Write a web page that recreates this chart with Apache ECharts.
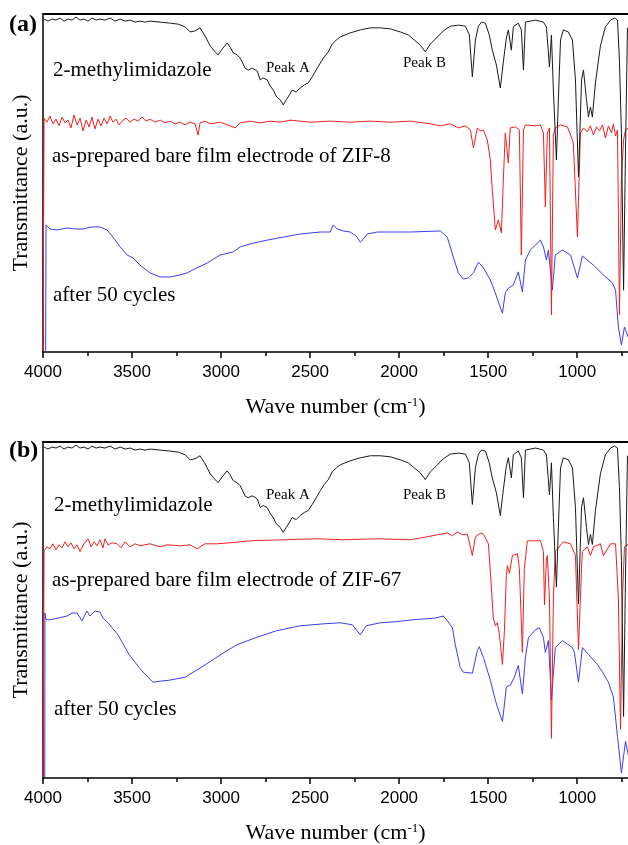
<!DOCTYPE html>
<html>
<head>
<meta charset="utf-8">
<script src="https://cdn.jsdelivr.net/npm/echarts@6/dist/echarts.min.js"></script>
<style>
html, body { margin: 0; padding: 0; background: #fff; }
#chart { width: 628px; height: 845px; }
</style>
</head>
<body>
<div id="chart"></div>
<script>
// wave number ticks (cm-1)
const wnTicks = [4000, 3500, 3000, 2500, 2000, 1500, 1000];
const wnMinor = [3750, 3250, 2750, 2250, 1750, 1250, 750];

// 2-methylimidazole, same spectrum in both panels  [wave number, transmittance a.u.]
const mim = [[3994,98.5],[3972,97.9],[3949,98.5],[3927,98.2],[3904,98.8],[3882,97.9],[3860,98.5],[3837,98.2],[3815,99.1],[3792,98.2],[3770,98.5],[3747,97.9],[3725,98.8],[3702,98.2],[3680,98.5],[3652,98.2],[3623,98.8],[3595,97.9],[3567,98.5],[3539,97.9],[3511,98.2],[3483,97.6],[3455,97.9],[3427,97.6],[3399,97.9],[3342,97.6],[3286,97.3],[3241,97.0],[3202,96.2],[3174,94.7],[3146,95.0],[3118,95.9],[3090,93.5],[3061,90.5],[3033,88.8],[3017,87.9],[2994,89.6],[2966,91.4],[2949,90.2],[2932,88.5],[2910,87.9],[2893,87.0],[2865,84.0],[2848,83.4],[2825,84.0],[2797,83.1],[2780,80.5],[2764,81.1],[2741,80.5],[2724,78.7],[2707,77.5],[2691,75.7],[2668,74.6],[2651,73.1],[2634,74.6],[2617,76.0],[2601,77.5],[2578,76.9],[2556,78.1],[2533,79.0],[2511,79.6],[2488,81.4],[2466,83.4],[2443,85.5],[2421,87.3],[2398,88.8],[2376,91.1],[2353,92.3],[2331,93.2],[2275,94.4],[2218,95.3],[2162,95.9],[2106,95.9],[2050,95.6],[1994,94.7],[1949,93.8],[1915,92.3],[1881,90.8],[1853,88.8],[1825,91.1],[1791,92.9],[1752,95.0],[1713,96.4],[1668,96.7],[1628,96.4],[1606,93.8],[1589,81.4],[1572,92.3],[1555,96.4],[1538,97.6],[1516,97.3],[1494,93.8],[1477,89.3],[1454,84.9],[1432,78.1],[1415,85.8],[1398,92.9],[1387,95.3],[1370,89.3],[1359,96.2],[1331,97.3],[1314,95.3],[1302,83.4],[1291,97.6],[1235,98.2],[1190,97.6],[1173,96.2],[1156,84.3],[1145,93.8],[1134,77.5],[1117,56.8],[1106,74.6],[1094,92.3],[1078,95.3],[1050,94.7],[1027,92.3],[1010,80.5],[993,51.8],[976,80.5],[965,83.4],[948,74.6],[937,69.5],[926,72.5],[915,69.5],[898,79.6],[870,90.5],[842,96.2],[813,98.2],[791,98.8],[774,98.2],[763,86.4],[752,64.8],[740,18.3],[729,59.8],[718,95.9]];

// ZIF-8 bare film electrode
const zif8Bare = [[4000,0.3],[3994,69.2],[3978,68.0],[3961,69.8],[3944,67.5],[3927,68.9],[3910,66.9],[3893,69.5],[3876,67.8],[3860,68.6],[3843,66.3],[3826,70.1],[3809,67.2],[3792,69.2],[3775,65.4],[3758,68.6],[3741,66.6],[3725,69.5],[3708,66.0],[3691,68.9],[3674,66.9],[3657,69.2],[3640,67.5],[3623,69.8],[3607,68.0],[3590,68.9],[3573,67.2],[3556,68.3],[3534,69.2],[3511,68.0],[3489,68.9],[3466,68.3],[3444,69.5],[3421,68.3],[3399,68.9],[3371,68.0],[3342,68.6],[3314,67.8],[3286,68.3],[3258,67.5],[3230,68.0],[3202,67.2],[3174,68.0],[3146,67.5],[3129,64.2],[3118,67.8],[3090,68.3],[3061,67.5],[3005,68.0],[2949,66.9],[2921,66.3],[2893,67.8],[2837,68.3],[2780,67.8],[2724,68.3],[2668,68.0],[2612,68.6],[2556,68.3],[2499,68.0],[2387,68.3],[2275,68.0],[2162,68.3],[2050,68.0],[1937,68.3],[1825,67.5],[1769,66.9],[1713,67.5],[1668,66.3],[1628,66.9],[1600,65.7],[1583,60.4],[1561,66.3],[1544,65.4],[1527,65.7],[1505,62.7],[1488,56.8],[1477,47.9],[1460,36.1],[1443,39.1],[1426,35.2],[1415,50.9],[1404,64.8],[1387,55.9],[1376,66.3],[1347,66.6],[1325,65.7],[1314,28.7],[1302,65.7],[1291,67.2],[1235,66.9],[1207,67.2],[1190,64.8],[1179,42.9],[1168,64.8],[1156,66.3],[1145,11.0],[1134,64.2],[1123,66.3],[1094,67.2],[1055,66.6],[1033,63.6],[1022,61.8],[999,34.0],[982,64.8],[965,66.3],[943,65.1],[926,66.9],[909,64.2],[892,66.6],[875,65.4],[858,67.2],[842,63.3],[825,66.9],[808,64.8],[797,67.5],[785,63.9],[774,65.7],[763,11.0],[752,50.9],[740,62.7],[729,65.7],[712,66.3]];

// ZIF-8 after 50 cycles
const zif8Cycled = [[3985,0.3],[3983,37.6],[3961,36.4],[3921,36.1],[3865,36.7],[3820,36.4],[3775,36.4],[3725,37.0],[3680,37.0],[3640,36.1],[3607,34.0],[3567,31.1],[3528,28.7],[3494,27.8],[3455,25.7],[3399,23.4],[3342,22.2],[3286,22.2],[3230,22.8],[3191,23.4],[3135,24.9],[3078,26.3],[3005,28.7],[2932,29.6],[2893,31.1],[2820,32.2],[2741,33.1],[2651,34.0],[2556,34.9],[2443,35.5],[2387,35.5],[2370,37.6],[2348,36.4],[2314,35.8],[2275,35.5],[2241,34.3],[2218,32.5],[2196,33.7],[2179,34.9],[2123,35.5],[1937,35.5],[1769,35.8],[1730,34.0],[1696,28.1],[1668,23.4],[1640,21.6],[1612,21.9],[1583,23.4],[1555,26.6],[1527,24.9],[1488,21.3],[1460,17.5],[1443,14.8],[1420,11.5],[1404,17.5],[1387,18.9],[1359,19.8],[1331,23.7],[1308,17.8],[1291,27.2],[1263,30.2],[1207,33.1],[1190,31.1],[1173,27.2],[1162,30.2],[1140,18.3],[1123,28.7],[1083,30.2],[1038,28.7],[999,21.9],[971,28.4],[909,25.7],[853,22.8],[802,20.4],[785,18.3],[769,7.4],[752,2.1],[735,7.4],[712,4.1]];

// ZIF-67 bare film electrode
const zif67Bare = [[4000,0.3],[3994,67.6],[3978,68.8],[3961,68.2],[3944,69.7],[3927,67.9],[3910,69.4],[3893,68.5],[3876,70.3],[3860,68.8],[3843,70.0],[3826,68.2],[3809,69.4],[3792,67.4],[3770,69.7],[3747,71.2],[3730,68.8],[3713,70.3],[3697,69.1],[3680,70.9],[3663,68.5],[3652,71.2],[3635,69.4],[3612,70.0],[3584,69.7],[3562,68.5],[3539,70.3],[3511,68.8],[3483,69.7],[3455,69.1],[3399,69.7],[3342,68.8],[3303,69.4],[3230,69.1],[3174,69.4],[3135,68.2],[3090,69.7],[3022,69.7],[2949,70.0],[2837,70.6],[2651,70.9],[2460,71.2],[2314,70.9],[2123,71.2],[1937,70.9],[1842,71.8],[1786,72.4],[1730,72.9],[1701,72.1],[1673,73.2],[1645,72.4],[1617,72.6],[1589,66.2],[1572,71.8],[1544,72.9],[1527,72.6],[1499,69.7],[1488,61.5],[1471,47.6],[1460,45.3],[1449,46.2],[1437,42.6],[1420,33.8],[1409,43.8],[1398,60.3],[1392,63.2],[1381,60.9],[1364,66.2],[1336,66.8],[1325,62.4],[1308,37.4],[1297,62.4],[1280,70.6],[1207,70.6],[1190,67.4],[1184,51.5],[1173,65.3],[1168,66.2],[1156,53.5],[1145,11.8],[1134,53.5],[1123,67.4],[1078,70.3],[1038,69.7],[1010,66.2],[993,38.2],[976,62.4],[971,67.4],[943,68.8],[926,66.2],[909,68.8],[870,69.7],[853,66.2],[813,69.7],[785,69.7],[769,53.5],[757,14.4],[746,53.5],[735,68.8],[712,69.7]];

// ZIF-67 after 50 cycles
const zif67Cycled = [[3990,0.3],[3989,49.1],[3983,47.1],[3961,47.1],[3916,47.6],[3865,48.2],[3837,49.1],[3809,49.1],[3781,46.8],[3753,49.7],[3736,48.2],[3708,49.7],[3680,49.4],[3663,47.6],[3635,46.2],[3579,42.6],[3517,36.8],[3449,32.1],[3382,28.5],[3342,28.8],[3292,29.1],[3202,30.0],[3112,32.9],[3000,36.8],[2910,39.7],[2803,41.8],[2691,43.8],[2556,45.3],[2421,45.9],[2331,46.2],[2263,45.6],[2218,42.6],[2185,45.3],[2106,46.2],[2022,46.5],[1921,47.1],[1797,47.6],[1752,48.2],[1730,46.8],[1701,44.7],[1685,39.7],[1657,32.9],[1640,31.5],[1589,31.2],[1561,37.9],[1550,39.1],[1527,35.9],[1488,29.1],[1460,23.2],[1449,21.2],[1420,16.8],[1398,27.1],[1376,27.6],[1353,30.0],[1331,33.5],[1308,25.0],[1291,35.9],[1274,41.8],[1235,44.1],[1213,44.7],[1190,41.8],[1179,37.4],[1162,40.9],[1145,23.2],[1123,38.8],[1083,40.9],[1027,38.8],[1016,37.4],[993,28.5],[971,38.8],[937,36.8],[887,33.8],[858,31.5],[825,28.5],[797,24.1],[774,12.4],[752,1.5],[729,10.9],[712,6.5]];

const SERIF = 'Liberation Serif';
const SANS = 'Liberation Sans';
const WN_MIN = 715, WN_MAX = 4000;

function xAxesFor(g) {
    const base = {gridIndex: g, type: 'value', inverse: true, min: WN_MIN, max: WN_MAX, splitLine: {show: false}};
    return [
        Object.assign({}, base, {
            position: 'bottom',
            axisLine: {onZero: false, lineStyle: {color: '#000', width: 1.5}},
            axisTick: {customValues: wnTicks, length: 6, lineStyle: {color: '#000', width: 1.5}},
            axisLabel: {
                customValues: wnTicks, margin: 12, fontFamily: SANS, fontSize: 17, color: '#000',
                formatter: v => String(v)
            },
            name: 'Wave number (cm{sup|-1})',
            nameLocation: 'middle',
            nameGap: 44,
            nameTextStyle: {
                fontFamily: SERIF, fontSize: 22, color: '#000',
                rich: {sup: {fontFamily: SERIF, fontSize: 13, color: '#000', verticalAlign: 'top'}}
            }
        }),
        // minor ticks
        Object.assign({}, base, {
            position: 'bottom',
            axisLine: {show: false, onZero: false},
            axisTick: {customValues: wnMinor, length: 4, lineStyle: {color: '#000', width: 1.5}},
            axisLabel: {show: false}
        }),
        // top frame
        Object.assign({}, base, {
            position: 'top',
            axisLine: {onZero: false, lineStyle: {color: '#000', width: 2}},
            axisTick: {show: false},
            axisLabel: {show: false}
        })
    ];
}

function yAxisFor(g) {
    return {
        gridIndex: g, type: 'value', min: 0, max: 100,
        axisLine: {show: true, lineStyle: {color: '#000', width: 1.5}},
        axisTick: {show: false},
        axisLabel: {show: false},
        splitLine: {show: false},
        name: 'Transmittance (a.u.)',
        nameLocation: 'middle',
        nameGap: 11,
        nameTextStyle: {fontFamily: SERIF, fontSize: 22, color: '#000'}
    };
}

function spectrum(data, color, xi, yi) {
    return {
        type: 'line', data: data, xAxisIndex: xi, yAxisIndex: yi,
        showSymbol: false, symbol: 'none', smooth: false,
        lineStyle: {color: color, width: 1},
        itemStyle: {color: color}
    };
}

function label(text, x, y, size, bold) {
    return {
        type: 'text', x: x, y: y, silent: true,
        style: {
            text: text, fill: '#000', align: 'left', verticalAlign: 'middle',
            font: (bold ? 'bold ' : '') + size + 'px "' + SERIF + '"'
        }
    };
}

const BLACK = '#1a1a1a', RED = '#ee2020', BLUE = '#3c3cec';

const chart = echarts.init(document.getElementById('chart'), null, {renderer: 'canvas'});
chart.setOption({
    animation: false,
    backgroundColor: '#fff',
    grid: [
        {left: 43, top: 14, right: 0, height: 338},
        {left: 43, top: 442, right: 0, height: 340}
    ],
    xAxis: xAxesFor(0).concat(xAxesFor(1)),
    yAxis: [yAxisFor(0), yAxisFor(1)],
    series: [
        spectrum(zif8Cycled, BLUE, 0, 0),
        spectrum(zif8Bare, RED, 0, 0),
        spectrum(mim, BLACK, 0, 0),
        spectrum(zif67Cycled, BLUE, 3, 1),
        spectrum(zif67Bare, RED, 3, 1),
        spectrum(mim, BLACK, 3, 1)
    ],
    graphic: [
        label('(a)', 9, 25, 24, true),
        label('2-methylimidazole', 53, 70, 21),
        label('Peak A', 266, 68, 15),
        label('Peak B', 403, 63, 15),
        label('as-prepared bare film electrode of ZIF-8', 52, 156, 21),
        label('after 50 cycles', 53, 295, 21),
        label('(b)', 9, 451, 24, true),
        label('2-methylimidazole', 54, 505, 21),
        label('Peak A', 266, 495, 15),
        label('Peak B', 403, 495, 15),
        label('as-prepared bare film electrode of ZIF-67', 52, 580, 21),
        label('after 50 cycles', 54, 709, 21)
    ]
});
</script>
</body>
</html>
